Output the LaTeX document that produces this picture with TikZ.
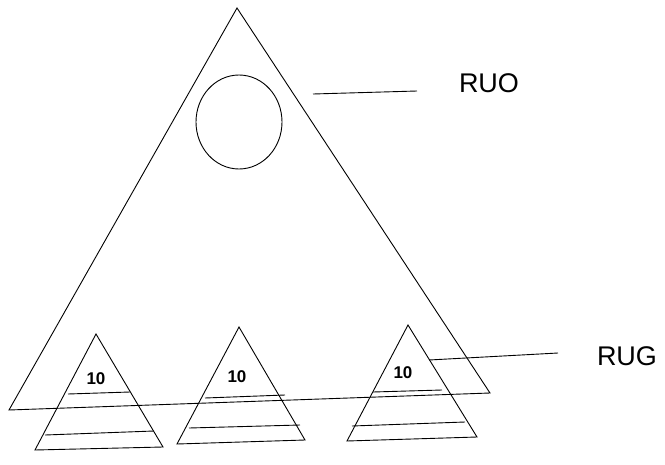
\documentclass[tikz,border=0pt]{standalone}
\usepackage{fontspec}
\setmainfont{Liberation Sans}

\begin{document}
\begin{tikzpicture}[
  x=1pt, y=-1pt,
  line width=0.9pt,
  lbl/.style={font=\fontsize{27}{27}\selectfont},
  num/.style={font=\fontsize{17}{17}\selectfont\bfseries}
]
\useasboundingbox (0,0) rectangle (665,464);

% Big triangle with the circle inside
\coordinate (top)   at (237,8);
\coordinate (left)  at (9,410);
\coordinate (right) at (490,393);
\draw (top) -- (left) -- (right) -- cycle;
\draw (239,122) ellipse [x radius=43, y radius=47];

% Small triangle, left
\draw (96,334) -- (35,450) -- (163,447) -- cycle;
\draw (68,394) -- (130,392);
\draw (45,435) -- (154,431);
\node[num] (n1) at (96,379) {10};

% Small triangle, middle
\draw (239,327) -- (177,444) -- (305,440) -- cycle;
\draw (205,398) -- (285,395);
\draw (189,428) -- (300,425);
\node[num] (n2) at (237,377) {10};

% Small triangle, right
\draw (408,325) -- (347,441) -- (477,437) -- cycle;
\draw (373,392) -- (442,390);
\draw (352,426) -- (465,422);
\node[num] (n3) at (403,373) {10};

% Labels with their leader lines
\node[lbl] (ruo) at (489,83) {RUO};
\coordinate (ruoA) at (313,94);
\coordinate (ruoB) at (417,91);
\draw (ruoA) -- (ruoB);

\node[lbl] (rug) at (627,356) {RUG};
\coordinate (rugA) at (429,360);
\coordinate (rugB) at (558,353);
\draw (rugA) -- (rugB);

\end{tikzpicture}
\end{document}
